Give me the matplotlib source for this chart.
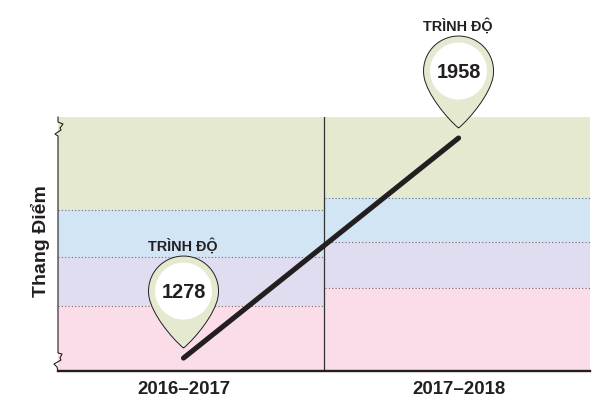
import matplotlib
matplotlib.use('Agg')
import matplotlib.pyplot as plt
import numpy as np
from matplotlib.patches import PathPatch, Circle
from matplotlib.path import Path
from matplotlib.transforms import Affine2D, ScaledTranslation

plt.rcParams['font.family'] = ['Liberation Sans', 'DejaVu Sans']

years = ['2016–2017', '2017–2018']
scores = [1278, 1958]
score_min = 1238
score_max = 2023
# band edges, bottom to top, one list per school year
left_edges = [1238, 1439, 1589, 1737, 2023]
right_edges = [1238, 1496, 1637, 1774, 2023]
band_colors = ['#fbdce9', '#e1ddf0', '#d2e5f5', '#e4e9cf']
x_min, x_max = -0.4564, 1.478
divider = 0.511

INK = '#231f20'
W, H = 596, 400

fig = plt.figure(figsize=(W / 100, H / 100), dpi=100)
ax = fig.add_axes([58 / W, 1 - 371 / H, (590 - 58) / W, (371 - 117) / H])
ax.set_xlim(x_min, x_max)
ax.set_ylim(score_min, score_max)
ax.axis('off')

# reference pixel coordinates, only for the decorations
px = Affine2D().scale(1 / W, -1 / H).translate(0, 1) + fig.transFigure

for x0, x1, edges in [(x_min, divider, left_edges), (divider + 0.004, x_max, right_edges)]:
    for i, color in enumerate(band_colors):
        ax.bar((x0 + x1) / 2, edges[i + 1] - edges[i], width=x1 - x0, bottom=edges[i],
               color=color, linewidth=0, zorder=1)
    for e in edges[1:-1]:
        ax.plot([x0, x1], [e, e], color='#6d6e71', lw=0.8, ls=(0, (1, 2)), zorder=2)

ax.plot([divider, divider], [score_min, score_max], color='#333333', lw=0.9, zorder=3)
ax.plot([x_min, x_max], [score_min, score_min], color=INK, lw=1.7, zorder=4, clip_on=False)

# left axis with the two break marks
spine = [(58, 117), (58, 122), (63, 124), (60, 128), (61, 130), (55, 134), (58, 136),
         (58, 353), (62, 354), (60, 358), (61, 360), (54, 364), (57, 367), (58, 371)]
ax.plot(*zip(*spine), color=INK, lw=0.8, transform=px, clip_on=False, zorder=4)

ax.plot([0, 1], scores, color=INK, lw=3.7, solid_capstyle='round', zorder=5)


def pin_path():
    # teardrop with its tip at (0, 0), y up, in pixels
    r = 35
    cy = 57
    a = np.radians(np.linspace(-10, 190, 60))
    arc = np.column_stack([r * np.cos(a), cy + r * np.sin(a)])
    verts = [(0, 0)]
    codes = [Path.MOVETO]
    verts += [(12, 10), (arc[0][0] - 3, arc[0][1] - 17), tuple(arc[0])]
    codes += [Path.CURVE4] * 3
    verts += [tuple(p) for p in arc[1:]]
    codes += [Path.LINETO] * (len(arc) - 1)
    verts += [(arc[-1][0] + 3, arc[-1][1] - 17), (-12, 10), (0, 0)]
    codes += [Path.CURVE4] * 3
    return Path(verts, codes)


for i, score in enumerate(scores):
    # pin tip sits 10 px above the end of the line
    anchor = ScaledTranslation(*ax.transData.transform((i, score)), Affine2D())
    tr = Affine2D().translate(0, 10) + anchor
    ax.add_patch(PathPatch(pin_path(), facecolor='#e4e9cf', edgecolor=INK, lw=0.7,
                           transform=tr, zorder=6, clip_on=False))
    ax.add_patch(Circle((0, 57), 28.5, facecolor='white', edgecolor='none',
                        transform=tr, zorder=7, clip_on=False))
    ax.text(0, 56, str(score), transform=tr, ha='center', va='center', fontsize=14.4,
            fontweight='bold', color=INK, zorder=8)
    ax.text(-0.5, 102, 'TRÌNH ĐỘ', transform=tr, ha='center', va='center', fontsize=10.4,
            fontweight='bold', color=INK, zorder=8)

for i, year in enumerate(years):
    ax.annotate(year, (i, score_min), xytext=(0, -18), textcoords='offset pixels',
                ha='center', va='center', fontsize=13.4, fontweight='bold', color=INK)

ax.text(41, 241, 'Thang Điểm', transform=px, rotation=90, ha='center', va='center',
        fontsize=14, fontweight='bold', color=INK)

fig.savefig('out.png', dpi=100)
